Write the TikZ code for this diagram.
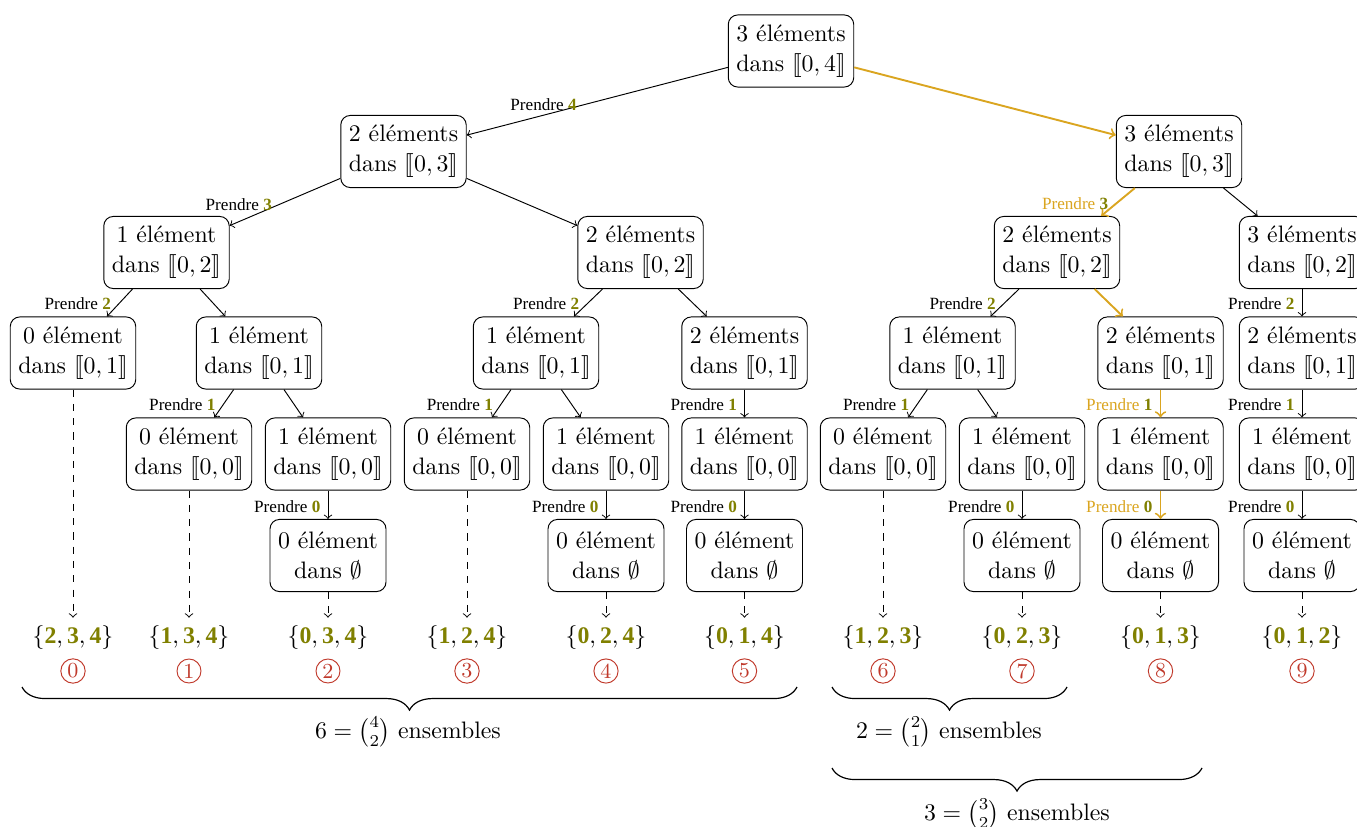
\documentclass[tikz,border=0pt]{standalone}
\usepackage{amsmath}
\usepackage{stmaryrd}
\usepackage{fontspec}
\newfontfamily\labfont{Liberation Serif}
\usetikzlibrary{decorations.pathreplacing}
\definecolor{pathc}{RGB}{218,165,32}
\definecolor{numc}{RGB}{128,128,0}
\definecolor{idxc}{RGB}{192,57,43}
\newcommand{\bn}[1]{\textcolor{numc}{\labfont\bfseries #1}}
\newcommand{\prendre}[1]{Prendre \bn{#1}}
\newcommand{\setof}[3]{$\{\text{\bn{#1}},\text{\bn{#2}},\text{\bn{#3}}\}$}
\tikzset{
  box/.style={draw, rounded corners=4pt, align=center, inner xsep=3.4pt,
    minimum height=30.3pt, font=\fontsize{10}{12.6}\selectfont},
  edge/.style={->},
  hl/.style={->, draw=pathc, line width=0.8pt},
  lab/.style={font=\labfont\fontsize{7.2}{8}\selectfont, inner sep=3pt, anchor=east, pos=0.55},
  labhl/.style={lab, text=pathc},
  dsh/.style={->, dashed},
  setn/.style={font=\fontsize{10}{12}\selectfont},
  idx/.style={circle, draw=idxc, text=idxc, inner sep=0.9pt, font=\small},
  brc/.style={decorate, decoration={brace, amplitude=9.7pt}, line width=0.5pt},
}
\begin{document}
\begin{tikzpicture}[x=0.42pt, y=-0.42pt]
\useasboundingbox (0,0) rectangle (1357,827);
\clip (0,0) rectangle (1357,827);
% level 0-2
\node[box] (r) at (791,51) {3 éléments\\dans $\llbracket 0,4\rrbracket$};
\node[box] (a) at (403.5,151.5) {2 éléments\\dans $\llbracket 0,3\rrbracket$};
\node[box] (b) at (1179,151.5) {3 éléments\\dans $\llbracket 0,3\rrbracket$};
\node[box] (c) at (166.5,252.5) {1 élément\\dans $\llbracket 0,2\rrbracket$};
\node[box] (d) at (640.5,252.5) {2 éléments\\dans $\llbracket 0,2\rrbracket$};
\node[box] (e) at (1057,252.5) {2 éléments\\dans $\llbracket 0,2\rrbracket$};
\node[box] (f) at (1302,252.5) {3 éléments\\dans $\llbracket 0,2\rrbracket$};
% level 3
\node[box] (g) at (73,353) {0 élément\\dans $\llbracket 0,1\rrbracket$};
\node[box] (h) at (259,353) {1 élément\\dans $\llbracket 0,1\rrbracket$};
\node[box] (i) at (536,353) {1 élément\\dans $\llbracket 0,1\rrbracket$};
\node[box] (j) at (744.5,353) {2 éléments\\dans $\llbracket 0,1\rrbracket$};
\node[box] (k) at (952.5,353) {1 élément\\dans $\llbracket 0,1\rrbracket$};
\node[box] (l) at (1160.5,353) {2 éléments\\dans $\llbracket 0,1\rrbracket$};
\node[box] (m) at (1302,353) {2 éléments\\dans $\llbracket 0,1\rrbracket$};
% level 4
\node[box] (n) at (189,454) {0 élément\\dans $\llbracket 0,0\rrbracket$};
\node[box] (o) at (328,454) {1 élément\\dans $\llbracket 0,0\rrbracket$};
\node[box] (q) at (467,454) {0 élément\\dans $\llbracket 0,0\rrbracket$};
\node[box] (rr) at (606,454) {1 élément\\dans $\llbracket 0,0\rrbracket$};
\node[box] (t) at (744.5,454) {1 élément\\dans $\llbracket 0,0\rrbracket$};
\node[box] (v) at (883,454) {0 élément\\dans $\llbracket 0,0\rrbracket$};
\node[box] (w) at (1022,454) {1 élément\\dans $\llbracket 0,0\rrbracket$};
\node[box] (y) at (1160.5,454) {1 élément\\dans $\llbracket 0,0\rrbracket$};
\node[box] (aa) at (1302,454) {1 élément\\dans $\llbracket 0,0\rrbracket$};
% level 5
\node[box] (p) at (328,555.5) {0 élément\\dans $\emptyset$};
\node[box] (s) at (606,555.5) {0 élément\\dans $\emptyset$};
\node[box] (u) at (744.5,555.5) {0 élément\\dans $\emptyset$};
\node[box] (x) at (1022,555.5) {0 élément\\dans $\emptyset$};
\node[box] (z) at (1160.5,555.5) {0 élément\\dans $\emptyset$};
\node[box] (ab) at (1302,555.5) {0 élément\\dans $\emptyset$};
% sets
\node[setn] (s0) at (73,638) {\setof{2}{3}{4}};
\node[setn] (s1) at (189,638) {\setof{1}{3}{4}};
\node[setn] (s2) at (328,638) {\setof{0}{3}{4}};
\node[setn] (s3) at (467,638) {\setof{1}{2}{4}};
\node[setn] (s4) at (606,638) {\setof{0}{2}{4}};
\node[setn] (s5) at (744.5,638) {\setof{0}{1}{4}};
\node[setn] (s6) at (883,638) {\setof{1}{2}{3}};
\node[setn] (s7) at (1022,638) {\setof{0}{2}{3}};
\node[setn] (s8) at (1160.5,638) {\setof{0}{1}{3}};
\node[setn] (s9) at (1302,638) {\setof{0}{1}{2}};
% indices
\node[idx] (c0) at (73,671) {0};
\node[idx] (c1) at (189,671) {1};
\node[idx] (c2) at (328,671) {2};
\node[idx] (c3) at (467,671) {3};
\node[idx] (c4) at (606,671) {4};
\node[idx] (c5) at (744.5,671) {5};
\node[idx] (c6) at (883,671) {6};
\node[idx] (c7) at (1022,671) {7};
\node[idx] (c8) at (1160.5,671) {8};
\node[idx] (c9) at (1302,671) {9};
% edges
\draw[edge] (r) -- node[lab]{\prendre{4}} (a);
\draw[hl] (r) -- (b);
\draw[edge] (a) -- node[lab]{\prendre{3}} (c);
\draw[edge] (a) -- (d);
\draw[hl] (b) -- node[labhl]{\prendre{3}} (e);
\draw[edge] (b) -- (f);
\draw[edge] (c) -- node[lab]{\prendre{2}} (g);
\draw[edge] (c) -- (h);
\draw[edge] (d) -- node[lab]{\prendre{2}} (i);
\draw[edge] (d) -- (j);
\draw[edge] (e) -- node[lab]{\prendre{2}} (k);
\draw[hl] (e) -- (l);
\draw[edge] (f) -- node[lab]{\prendre{2}} (m);
\draw[edge] (h) -- node[lab]{\prendre{1}} (n);
\draw[edge] (h) -- (o);
\draw[edge] (i) -- node[lab]{\prendre{1}} (q);
\draw[edge] (i) -- (rr);
\draw[edge] (j) -- node[lab]{\prendre{1}} (t);
\draw[edge] (k) -- node[lab]{\prendre{1}} (v);
\draw[edge] (k) -- (w);
\draw[hl] (l) -- node[labhl]{\prendre{1}} (y);
\draw[edge] (m) -- node[lab]{\prendre{1}} (aa);
\draw[edge] (o) -- node[lab]{\prendre{0}} (p);
\draw[edge] (rr) -- node[lab]{\prendre{0}} (s);
\draw[edge] (t) -- node[lab]{\prendre{0}} (u);
\draw[edge] (w) -- node[lab]{\prendre{0}} (x);
\draw[hl] (y) -- node[labhl]{\prendre{0}} (z);
\draw[edge] (aa) -- node[lab]{\prendre{0}} (ab);
% dashed
\draw[dsh] (g) -- (s0);
\draw[dsh] (n) -- (s1);
\draw[dsh] (p) -- (s2);
\draw[dsh] (q) -- (s3);
\draw[dsh] (s) -- (s4);
\draw[dsh] (u) -- (s5);
\draw[dsh] (v) -- (s6);
\draw[dsh] (x) -- (s7);
\draw[dsh] (z) -- (s8);
\draw[dsh] (ab) -- (s9);
% braces
\coordinate (b1l) at (22,687);
\coordinate (b1r) at (797,687);
\coordinate (b2l) at (832,687);
\coordinate (b2r) at (1067,687);
\coordinate (b3l) at (832,768);
\coordinate (b3r) at (1202,768);
\draw[brc] (b1r) -- (b1l);
\draw[brc] (b2r) -- (b2l);
\draw[brc] (b3r) -- (b3l);
\node (t1) at (408,732) {$6=\binom{4}{2}$ ensembles};
\node (t2) at (949,732) {$2=\binom{2}{1}$ ensembles};
\node (t3) at (1017,814) {$3=\binom{3}{2}$ ensembles};
\end{tikzpicture}
\end{document}
